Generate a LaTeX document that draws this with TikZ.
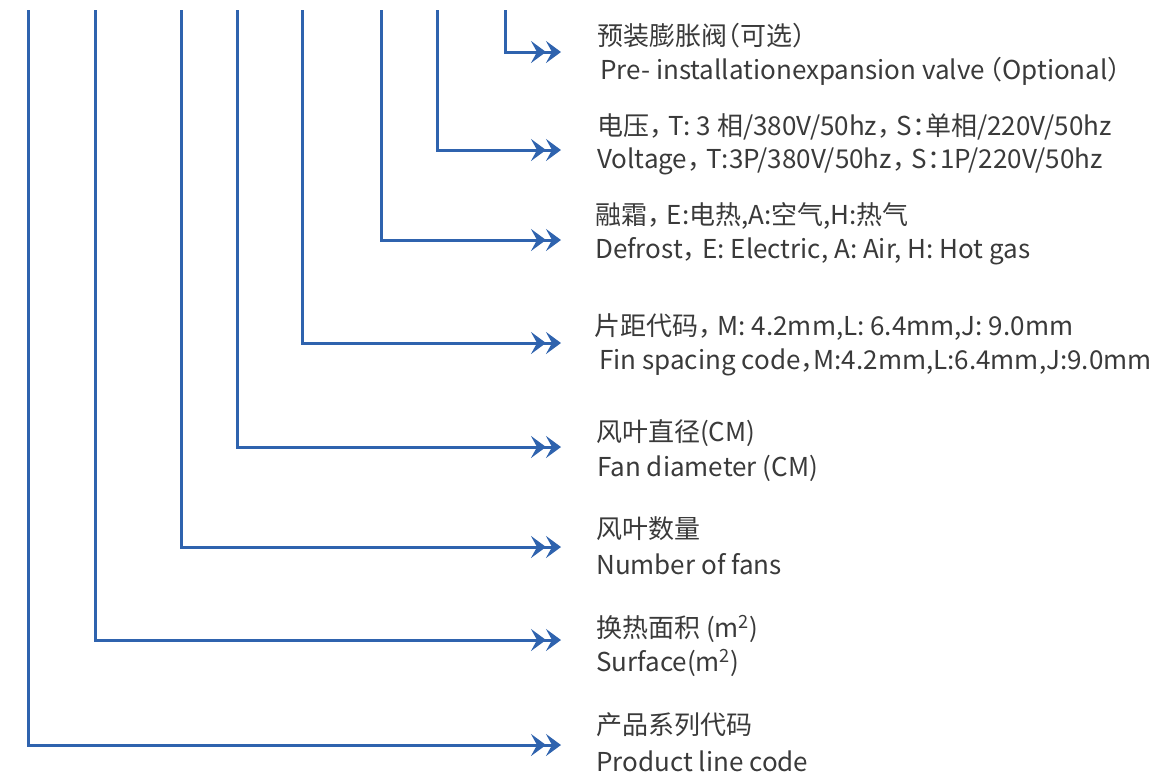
\documentclass[tikz,border=0pt]{standalone}
\usepackage{fontspec}
\setmainfont{Noto Sans CJK SC}[RawFeature=+halt]
\usetikzlibrary{arrows.meta}
\definecolor{lineblue}{HTML}{2F63AE}
\definecolor{txt}{HTML}{3A3A3A}
\newcommand{\cm}{，\hspace{0.25em}}
\tikzset{
  conn/.style={draw=lineblue, line width=3pt, -{Stealth[length=15pt,width=22pt,inset=6pt]Stealth[length=15pt,width=22pt,inset=6pt]}, shorten >=-1pt},
  lbl/.style={anchor=west, inner sep=0pt, text=txt, font=\fontsize{26pt}{31pt}\selectfont}
}
\begin{document}
\begin{tikzpicture}[x=1pt,y=-1pt]
\useasboundingbox (0,0) rectangle (1174,772);
% top ends of the vertical lines
\coordinate (t1) at (28,10);
\coordinate (t2) at (95,10);
\coordinate (t3) at (181,10);
\coordinate (t4) at (237,10);
\coordinate (t5) at (302,10);
\coordinate (t6) at (381,10);
\coordinate (t7) at (437,10);
\coordinate (t8) at (505,10);
% arrow ends
\coordinate (e8) at (560,52);
\coordinate (e7) at (560,150);
\coordinate (e6) at (560,240);
\coordinate (e5) at (560,343);
\coordinate (e4) at (560,447);
\coordinate (e3) at (560,547);
\coordinate (e2) at (560,640);
\coordinate (e1) at (560,745);
% labels
\node[lbl] (c8) at (597,36) {预装膨胀阀（可选）};
\node[lbl] (n8) at (600,71) {Pre- installationexpansion valve\,（Optional）};
\node[lbl] (c7) at (597,127) {电压\cm T: 3 相/380V/50hz\cm S：单相/220V/50hz};
\node[lbl] (n7) at (597,161) {Voltage\cm T:3P/380V/50hz\cm S：1P/220V/50hz};
\node[lbl] (c6) at (595,216) {融霜\cm E:电热,A:空气,H:热气};
\node[lbl] (n6) at (595,251) {Defrost\cm E: Electric, A: Air, H: Hot gas};
\node[lbl] (c5) at (594,327) {片距代码\cm M: 4.2mm,L: 6.4mm,J: 9.0mm};
\node[lbl] (n5) at (599,362) {Fin spacing code，M:4.2mm,L:6.4mm,J:9.0mm};
\node[lbl] (c4) at (596,433) {风叶直径(CM)};
\node[lbl] (n4) at (597,468) {Fan diameter (CM)};
\node[lbl] (c3) at (596,529) {风叶数量};
\node[lbl] (n3) at (596,564) {Number of fans};
\node[lbl] (c2) at (596,629) {换热面积 (m\textsuperscript{2})};
\node[lbl] (n2) at (596,663) {Surface(m\textsuperscript{2})};
\node[lbl] (c1) at (596,725) {产品系列代码};
\node[lbl] (n1) at (596,761) {Product line code};
% connectors
\draw[conn] (t8) |- (e8);
\draw[conn] (t7) |- (e7);
\draw[conn] (t6) |- (e6);
\draw[conn] (t5) |- (e5);
\draw[conn] (t4) |- (e4);
\draw[conn] (t3) |- (e3);
\draw[conn] (t2) |- (e2);
\draw[conn] (t1) |- (e1);
\end{tikzpicture}
\end{document}
